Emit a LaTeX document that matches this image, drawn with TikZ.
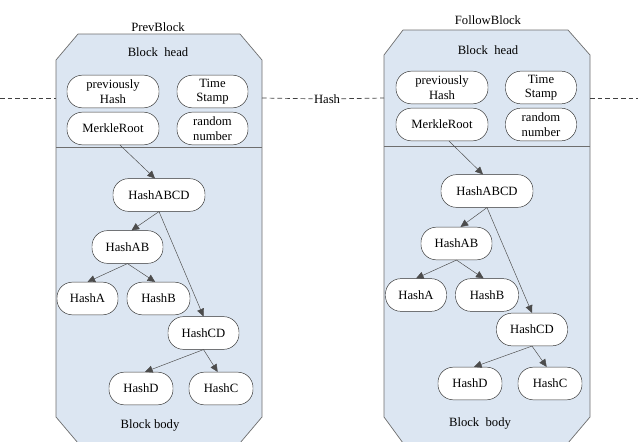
\documentclass[tikz,border=0pt]{standalone}
\usepackage{fontspec}
\setmainfont{Liberation Serif}
\usetikzlibrary{arrows.meta}

\definecolor{blockfill}{RGB}{220,230,242}
\definecolor{blockline}{RGB}{110,110,110}

\tikzset{
  block/.style={draw=blockline, fill=blockfill, line width=0.6pt},
  field/.style={draw=black!80, fill=white, rounded corners=0.46cm, minimum height=0.98cm,
    inner sep=1pt, align=center, font=\fontsize{10.8}{12.5}\selectfont},
  title/.style={font=\fontsize{10.8}{12.5}\selectfont},
  link/.style={draw=black!70, line width=0.4pt, -{Triangle[length=6.5pt,width=6pt]}},
  chain/.style={draw=black!75, dash pattern=on 4pt off 2.6pt, line width=0.6pt}
}

\begin{document}
\begin{tikzpicture}[x=0.03cm, y=-0.03cm]
  \useasboundingbox (0,0) rectangle (638,441);

  % Block outlines
  \draw[block] (56,60) -- (78,34) -- (240,34) -- (262,60) -- (262,417) -- (240,443) -- (78,443) -- (56,417) -- cycle;
  \draw[blockline, line width=0.6pt] (56,147) -- (262,147);
  \draw[block] (384,55) -- (403,30) -- (568,30) -- (590,55) -- (590,417) -- (568,443) -- (403,443) -- (384,417) -- cycle;
  \draw[blockline, line width=0.6pt] (384,146) -- (590,146);

  % Titles
  \node[title] (ptitle) at (158,27) {PrevBlock};
  \node[title] (phead) at (158,52) {Block\enspace head};
  \node[title] (pbody) at (150,425) {Block body};
  \node[title] (ftitle) at (488,20) {FollowBlock};
  \node[title] (fhead) at (488,50) {Block\enspace head};
  \node[title] (fbody) at (480,423) {Block\enspace body};

  % Hash link between the two blocks
  \coordinate (lin) at (0,98);
  \coordinate (pw) at (56,98);
  \coordinate (pe) at (262,98);
  \coordinate (fw) at (384,98);
  \coordinate (fe) at (590,98);
  \coordinate (lout) at (638,98);
  \node[title, inner sep=1pt] (hash) at (327,99) {Hash};
  \draw[chain] (lin) -- (pw);
  \draw[chain] (pe) -- (hash) -- (fw);
  \draw[chain] (fe) -- (lout);

  % PrevBlock head fields
  \node[field, minimum width=2.76cm] (pprev) at (113,91.5) {previously\\Hash};
  \node[field, minimum width=2.13cm] (ptime) at (212.5,91.5) {Time\\Stamp};
  \node[field, minimum width=2.76cm] (proot) at (113,128.5) {MerkleRoot};
  \node[field, minimum width=2.13cm] (prand) at (212.5,128.5) {random\\number};

  % PrevBlock body tree
  \node[field, minimum width=2.76cm] (pabcd) at (159,195) {HashABCD};
  \node[field, minimum width=2.13cm] (pab) at (127.5,247) {HashAB};
  \node[field, minimum width=1.83cm] (pa) at (87.5,298.5) {HashA};
  \node[field, minimum width=1.89cm] (pb) at (158.5,298.5) {HashB};
  \node[field, minimum width=2.13cm] (pcd) at (203.5,333) {HashCD};
  \node[field, minimum width=1.92cm] (pd) at (141,388.5) {HashD};
  \node[field, minimum width=1.92cm] (pc) at (221,388.5) {HashC};

  \draw[link] ([xshift=0.21cm]proot.south) -- ([xshift=-0.12cm]pabcd.north);
  \draw[link] (pabcd.south) -- ([xshift=0.12cm]pab.north);
  \draw[link] (pabcd.south) -- (pcd.north);
  \draw[link] (pab.south) -- (pa.north);
  \draw[link] (pab.south) -- ([xshift=-0.1cm]pb.north);
  \draw[link] (pcd.south) -- ([xshift=0.12cm]pd.north);
  \draw[link] (pcd.south) -- ([xshift=-0.1cm]pc.north);

  % FollowBlock head fields
  \node[field, minimum width=2.76cm] (fprev) at (442,87.5) {previously\\Hash};
  \node[field, minimum width=2.13cm] (ftime) at (541,87.5) {Time\\Stamp};
  \node[field, minimum width=2.76cm] (froot) at (442,124.5) {MerkleRoot};
  \node[field, minimum width=2.13cm] (frand) at (541,124.5) {random\\number};

  % FollowBlock body tree
  \node[field, minimum width=2.76cm] (fabcd) at (487,191) {HashABCD};
  \node[field, minimum width=2.13cm] (fab) at (456.5,243.5) {HashAB};
  \node[field, minimum width=1.83cm] (fa) at (416,295) {HashA};
  \node[field, minimum width=1.89cm] (fb) at (487,295) {HashB};
  \node[field, minimum width=2.13cm] (fcd) at (532,329.5) {HashCD};
  \node[field, minimum width=1.92cm] (fd) at (470,383.5) {HashD};
  \node[field, minimum width=1.92cm] (fc) at (550,383.5) {HashC};

  \draw[link] ([xshift=0.21cm]froot.south) -- ([xshift=-0.12cm]fabcd.north);
  \draw[link] (fabcd.south) -- ([xshift=0.12cm]fab.north);
  \draw[link] (fabcd.south) -- (fcd.north);
  \draw[link] (fab.south) -- (fa.north);
  \draw[link] (fab.south) -- ([xshift=-0.1cm]fb.north);
  \draw[link] (fcd.south) -- ([xshift=0.12cm]fd.north);
  \draw[link] (fcd.south) -- ([xshift=-0.1cm]fc.north);

\end{tikzpicture}
\end{document}
